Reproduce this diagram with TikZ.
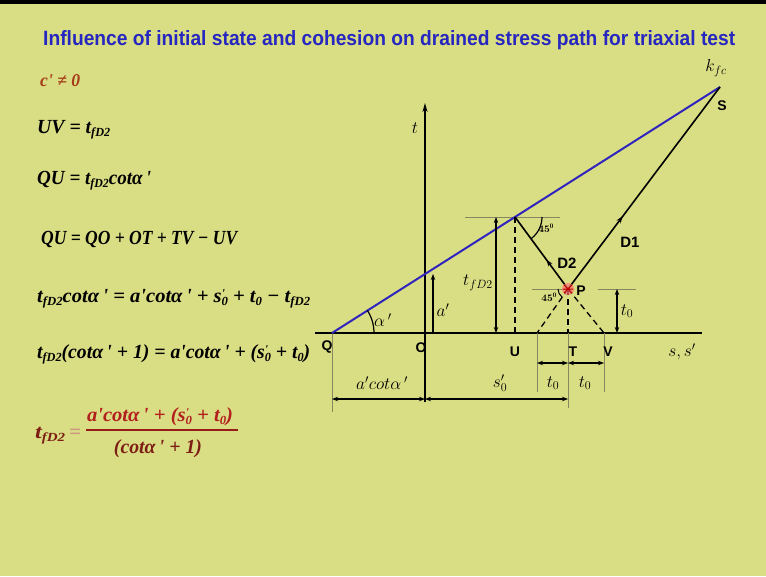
\documentclass[tikz,border=0pt]{standalone}
\usepackage{amsmath,amssymb}
\usepackage{fontspec}
\newfontfamily\lab{Liberation Sans}
\newfontfamily\eqf{Liberation Serif}
\usetikzlibrary{arrows.meta,decorations.markings}
\definecolor{bg}{RGB}{217,221,131}
\definecolor{ttl}{RGB}{38,38,192}
\definecolor{fl}{RGB}{48,36,190}
\definecolor{brn}{RGB}{165,60,25}
\definecolor{dred}{RGB}{125,30,20}
\definecolor{mred}{RGB}{178,32,30}
\definecolor{pale}{RGB}{205,150,130}
\definecolor{thinc}{RGB}{135,135,95}
\newcommand\subx[1]{\raisebox{-0.35ex}{\scalebox{0.62}{#1}}}
\newcommand\pq{\textquotesingle}
\newcommand\tfd{t\subx{fD2}}
\newcommand\sz{s\rlap{\raisebox{0.45ex}{\scalebox{0.6}{\pq}}}\subx{0}}
\newcommand\tz{t\subx{0}}
\newcommand\cta{cotα\,\pq}
\newcommand\EQ{\eqf\bfseries\itshape\fontsize{20}{20}\selectfont}
\tikzset{
  ax/.style={line width=1.6pt, black},
  dimarr/.style={line width=1.1pt, {Stealth[length=6pt,width=4.5pt]}-{Stealth[length=6pt,width=4.5pt]}},
  uparr/.style={line width=1.1pt, -{Stealth[length=6pt,width=4.5pt]}},
  ext/.style={line width=0.5pt, thinc},
  dsh/.style={line width=1.3pt, dash pattern=on 6pt off 4pt},
  lbl/.style={font=\lab\bfseries\fontsize{14}{14}\selectfont, inner sep=0pt},
  mlab/.style={font=\fontsize{17}{17}\selectfont, inner sep=0pt},
  eq/.style={anchor=base west, inner sep=0pt},
  path2/.style={line width=1.6pt, postaction=decorate},
}
\begin{document}
\begin{tikzpicture}[x=1pt,y=-1pt]
\fill[bg] (0,0) rectangle (766,576);
\fill[black] (0,0) rectangle (766,4);
\useasboundingbox (0,0) rectangle (766,576);

% title
\node[anchor=base west, inner sep=0pt, text=ttl] (title) at (43,45)
  {\resizebox{692pt}{15pt}{\lab\bfseries Influence of initial state and cohesion on drained stress path for triaxial test}};

% equations
\node[eq, text=brn] (e0) at (40,86) {\resizebox{40pt}{\height}{\EQ\fontsize{18}{18}\selectfont c\pq\ ≠ 0}};
\node[eq] (e1) at (37,133) {\resizebox{73pt}{\height}{\EQ UV = \tfd}};
\node[eq] (e2) at (37,184) {\resizebox{114pt}{\height}{\EQ QU = \tfd\cta}};
\node[eq] (e3) at (41,244) {\resizebox{196pt}{\height}{\EQ QU = QO + OT + TV − UV}};
\node[eq] (e4) at (37,302) {\resizebox{273pt}{\height}{\EQ \tfd\cta\ = a\pq\cta\ + \sz\ + \tz\ − \tfd}};
\node[eq] (e5) at (37,358) {\resizebox{273pt}{\height}{\EQ \tfd(\cta\ + 1) = a\pq\cta\ + (\sz\ + \tz)}};

% final fraction
\node[eq, text=dred] (e6a) at (35,438) {\resizebox{30pt}{\height}{\EQ\tfd}};
\node[eq, text=pale] (e6b) at (69,438) {\resizebox{12pt}{\height}{\EQ =}};
\node[anchor=base, inner sep=0pt, text=mred] (e6n) at (160,421) {\resizebox{146pt}{\height}{\EQ a\pq\cta\ + (\sz\ + \tz)}};
\node[anchor=base, inner sep=0pt, text=dred] (e6d) at (158,453) {\resizebox{88pt}{\height}{\EQ (\cta\ + 1)}};
\coordinate (bar1) at (86,430); \coordinate (bar2) at (238,430);
\draw[line width=1.1pt, mred!85!black] (bar1) -- (bar2);

% key points
\coordinate (Q) at (332,333);
\coordinate (O) at (425,333);
\coordinate (AxL) at (315,333);
\coordinate (AxR) at (702,333);
\coordinate (Tt) at (425,103);
\coordinate (Tb) at (425,402);
\coordinate (A) at (425,274);
\coordinate (S) at (720,87);
\coordinate (F) at (515,217);
\coordinate (U) at (515,333);
\coordinate (P) at (568,289);
\coordinate (T) at (568,333);
\coordinate (L) at (537,333);
\coordinate (V) at (604,333);

% axes
\draw[ax] (AxL) -- (AxR);
\draw[ax,-{Stealth[length=9pt,width=5pt]}] (Tb) -- (Tt);

% thin extension lines
\coordinate (hF1) at (465,217); \coordinate (hF2) at (560,217);
\coordinate (hP1) at (532,289);
\coordinate (hP3) at (598,289); \coordinate (hP4) at (636,289);
\coordinate (Qd) at (332,412);
\coordinate (Ld) at (537,392);
\coordinate (Td) at (568,408);
\coordinate (Vd) at (604,392);
\draw[ext] (hF1) -- (hF2);
\draw[ext] (hP1) -- (P);
\draw[ext] (hP3) -- (hP4);
\draw[ext] (Q) -- (Qd);
\draw[ext] (L) -- (Ld);
\draw[ext] (V) -- (Vd);
\draw[ext] (T) -- (Td);

% failure envelope
\draw[line width=2pt, fl] (Q) -- (S);

% angle alpha'
\draw[line width=1.2pt] (Q) ++(42,0) arc[start angle=0,end angle=-32.4,radius=42];

% dashed lines
\draw[dsh] (F) -- (U);
\draw[dsh] (P) -- (T);
\draw[dsh] (P) -- (L);
\draw[dsh] (P) -- (V);

% stress paths
\draw[path2, decoration={markings, mark=at position 0.4 with {\arrow{Stealth[length=6pt,width=5pt]}}}] (P) -- (F);
\draw[path2, decoration={markings, mark=at position 0.36 with {\arrow{Stealth[length=7pt,width=5pt]}}}] (P) -- (S);

% 45 arcs
\draw[line width=1.2pt] (F) ++(27,0) arc[start angle=0,end angle=53,radius=27];
\draw[line width=1pt] (P) ++(180:10) arc[start angle=180,end angle=125,radius=10];

% P marker
\fill[red!55!white, opacity=0.7] (P) circle (6);
\draw[red!75!black, line width=1pt] (P) +(-4,-4) -- +(4,4) (P) +(-4,4) -- +(4,-4) (P) +(-5,0) -- +(5,0);

% dimension arrows
\coordinate (fd1) at (496,217); \coordinate (fd2) at (496,333);
\draw[dimarr] (fd1) -- (fd2);
\coordinate (ad1) at (433,333); \coordinate (ad2) at (433,274);
\draw[uparr] (ad1) -- (ad2);
\coordinate (td1) at (617,289); \coordinate (td2) at (617,333);
\draw[dimarr] (td1) -- (td2);
\coordinate (b1) at (332,399); \coordinate (b2) at (425,399); \coordinate (b3) at (568,399);
\draw[dimarr] (b1) -- (b2);
\draw[dimarr] (b2) -- (b3);
\coordinate (c1) at (537,363); \coordinate (c2) at (568,363); \coordinate (c3) at (604,363);
\draw[dimarr] (c1) -- (c2);
\draw[dimarr] (c2) -- (c3);

% labels
\node[lbl] (lQ) at (327,347) {Q};
\node[lbl] (lO) at (421,348) {O};
\node[lbl] (lU) at (515,352) {U};
\node[lbl] (lT) at (573,352) {T};
\node[lbl] (lV) at (608,352) {V};
\node[lbl] (lP) at (581,291) {P};
\node[lbl] (lS) at (722,106) {S};
\node[lbl,font=\lab\bfseries\fontsize{15}{15}\selectfont] (lD1) at (630,242) {D1};
\node[lbl,font=\lab\bfseries\fontsize{15}{15}\selectfont] (lD2) at (567,263) {D2};
\node[inner sep=0pt,font=\bfseries\fontsize{10}{10}\selectfont] (l45a) at (546,228) {45$^{\mathbf 0}$};
\node[inner sep=0pt,font=\bfseries\fontsize{10}{10}\selectfont] (l45b) at (549,297) {45$^{\mathbf 0}$};
\node[mlab] (lt) at (415,128) {$t$};
\node[mlab] (lk) at (716,68) {$k_{fc}$};
\node[mlab] (lss) at (682,352) {$s, s'$};
\node[mlab] (lal) at (383,320) {$\alpha\,'$};
\node[mlab] (la) at (443,310) {$a'$};
\node[mlab] (ltf) at (478,283) {$t_{fD2}$};
\node[mlab] (lt0) at (627,311) {$t_0$};
\node[mlab] (lacot) at (382,383) {$a'cot\alpha\,'$};
\node[mlab] (ls0) at (500,383) {$s'_0$};
\node[mlab] (lt0a) at (553,383) {$t_0$};
\node[mlab] (lt0b) at (585,383) {$t_0$};
\end{tikzpicture}
\end{document}
